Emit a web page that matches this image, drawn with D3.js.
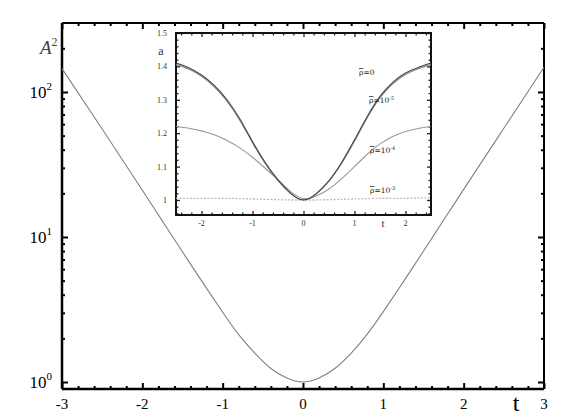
<!DOCTYPE html>
<html>
<head>
<meta charset="utf-8">
<script src="https://cdn.jsdelivr.net/npm/d3@7"></script>
<style>
  body { margin: 0; background: #fff; }
  svg { display: block; font-family: "Liberation Serif", "DejaVu Serif", serif; }
</style>
</head>
<body>
<div id="chart"></div>
<script>
// main curve: A^2 against t
var tMain = [-3, -2.5, -2, -1.8, -1.6, -1.4, -1.2, -1, -0.8, -0.6, -0.4, -0.2, 0,
             0.2, 0.4, 0.6, 0.8, 1, 1.2, 1.4, 1.6, 1.8, 2, 2.5, 3];
var a2Main = [145, 55.5, 21.0, 14.2, 9.6, 6.5, 4.42, 3.03, 2.12, 1.58, 1.24, 1.066, 1.0,
              1.067, 1.245, 1.585, 2.14, 3.06, 4.47, 6.58, 9.73, 14.4, 21.3, 56.2, 148];

// inset: a against t for several rho-bar
var tInset = [-2.5, -2.25, -2, -1.75, -1.5, -1.25, -1, -0.75, -0.5, -0.25, 0,
              0.25, 0.5, 0.75, 1, 1.25, 1.5, 1.75, 2, 2.25, 2.5];
var aRho0 = [1.41, 1.396, 1.374, 1.343, 1.3, 1.243, 1.175, 1.112, 1.06, 1.02, 1.0,
             1.019, 1.058, 1.113, 1.18, 1.25, 1.31, 1.352, 1.38, 1.397, 1.41];
var aRho5 = [1.406, 1.392, 1.37, 1.339, 1.296, 1.239, 1.171, 1.109, 1.058, 1.019, 1.0,
             1.018, 1.056, 1.11, 1.176, 1.246, 1.306, 1.348, 1.376, 1.393, 1.406];
var aRho4 = [1.22, 1.215, 1.207, 1.195, 1.178, 1.156, 1.128, 1.095, 1.06, 1.025, 1.004,
             1.012, 1.033, 1.064, 1.1, 1.137, 1.168, 1.19, 1.205, 1.214, 1.22];
var aRho3 = [1.005, 1.005, 1.005, 1.005, 1.005, 1.004, 1.003, 1.002, 1.001, 1.0, 1.0,
             1.0, 1.001, 1.002, 1.003, 1.004, 1.005, 1.005, 1.005, 1.006, 1.006];

var mainXTicks = [-3, -2, -1, 0, 1, 2, 3];
var mainYTicks = [1, 10, 100];
var mainYLabels = ["0", "1", "2"];
var insetXTicks = [-2, -1, 0, 1, 2];
var insetYTicks = [1, 1.1, 1.2, 1.3, 1.4, 1.5];
var insetYLabels = ["1", "1.1", "1.2", "1.3", "1.4", "1.5"];

var svgWidth = 581, svgHeight = 419;

var svg = d3.select("#chart").append("svg")
  .attr("width", svgWidth)
  .attr("height", svgHeight);

// ---------- main plot ----------
var box = { left: 62, right: 544, top: 23, bottom: 389 };

var x = d3.scaleLinear().domain([-3, 3]).range([box.left, box.right]);
var y = d3.scaleLog().domain([0.895, 299]).range([box.bottom, box.top]);

var minorX = d3.range(-3, 3.001, 0.2).map(d => +d.toFixed(1)).filter(d => mainXTicks.indexOf(d) < 0);
var minorY = [];
[1, 10, 100].forEach(function(dec) {
  for (var k = 2; k <= 9; k++) {
    if (dec * k < 299) minorY.push(dec * k);
  }
});

function drawTicks(g, axis) {
  g.call(axis);
  g.select(".domain").remove();
  g.selectAll(".tick line").attr("stroke", "#000").attr("stroke-width", 2);
}

// bottom/top/left/right ticks, all pointing inward
drawTicks(svg.append("g").attr("transform", `translate(0,${box.bottom})`),
  d3.axisBottom(x).tickValues(mainXTicks).tickSize(-6).tickFormat(""));
drawTicks(svg.append("g").attr("transform", `translate(0,${box.bottom})`),
  d3.axisBottom(x).tickValues(minorX).tickSize(-3).tickFormat(""));
drawTicks(svg.append("g").attr("transform", `translate(0,${box.top})`),
  d3.axisTop(x).tickValues(mainXTicks).tickSize(-6).tickFormat(""));
drawTicks(svg.append("g").attr("transform", `translate(0,${box.top})`),
  d3.axisTop(x).tickValues(minorX).tickSize(-3).tickFormat(""));
drawTicks(svg.append("g").attr("transform", `translate(${box.left},0)`),
  d3.axisLeft(y).tickValues(mainYTicks).tickSize(-6).tickFormat(""));
drawTicks(svg.append("g").attr("transform", `translate(${box.left},0)`),
  d3.axisLeft(y).tickValues(minorY).tickSize(-3).tickFormat(""));
drawTicks(svg.append("g").attr("transform", `translate(${box.right},0)`),
  d3.axisRight(y).tickValues(mainYTicks).tickSize(-6).tickFormat(""));
drawTicks(svg.append("g").attr("transform", `translate(${box.right},0)`),
  d3.axisRight(y).tickValues(minorY).tickSize(-3).tickFormat(""));

// frame
svg.append("line").attr("x1", box.left).attr("x2", box.right).attr("y1", box.bottom).attr("y2", box.bottom)
  .attr("stroke", "#000").attr("stroke-width", 2.5);
svg.append("line").attr("x1", box.left).attr("x2", box.left).attr("y1", box.top).attr("y2", box.bottom)
  .attr("stroke", "#000").attr("stroke-width", 2.5);
svg.append("line").attr("x1", box.left).attr("x2", box.right).attr("y1", box.top).attr("y2", box.top)
  .attr("stroke", "#000").attr("stroke-width", 2);
svg.append("line").attr("x1", box.right).attr("x2", box.right).attr("y1", box.top).attr("y2", box.bottom)
  .attr("stroke", "#000").attr("stroke-width", 2);

// x tick labels
svg.append("g").selectAll("text").data(mainXTicks).enter().append("text")
  .attr("x", d => x(d))
  .attr("y", 409)
  .attr("text-anchor", "middle")
  .attr("font-size", 15)
  .text(d => d);

// y tick labels 10^n
var yLab = svg.append("g").selectAll("text").data(mainYTicks).enter().append("text")
  .attr("x", 52)
  .attr("y", d => y(d) + 6)
  .attr("text-anchor", "end")
  .attr("font-size", 17);
yLab.append("tspan").text("10");
yLab.append("tspan").attr("dy", -8).attr("font-size", 11).text((d, i) => mainYLabels[i]);

// axis names
var aLab = svg.append("text").attr("x", 40).attr("y", 54).attr("font-size", 19).attr("fill", "#444");
aLab.append("tspan").attr("font-style", "italic").text("A");
aLab.append("tspan").attr("dy", -8).attr("font-size", 12).text("2");

svg.append("text").attr("x", 516).attr("y", 411)
  .attr("text-anchor", "middle").attr("font-size", 24).text("t");

// main curve
var mainData = tMain.map((t, i) => ({ t: t, v: a2Main[i] }));
var line = d3.line().x(d => x(d.t)).y(d => y(d.v)).curve(d3.curveNatural);
svg.append("path").datum(mainData)
  .attr("d", line)
  .attr("fill", "none")
  .attr("stroke", "#808080")
  .attr("stroke-width", 1.1);

// ---------- inset ----------
var ib = { left: 176, right: 431, top: 33, bottom: 215 };
var ix = d3.scaleLinear().domain([-2.5, 2.5]).range([ib.left, ib.right]);
var iy = d3.scaleLinear().domain([0.955, 1.5]).range([ib.bottom, ib.top]);

svg.append("rect").attr("x", ib.left).attr("y", ib.top)
  .attr("width", ib.right - ib.left).attr("height", ib.bottom - ib.top)
  .attr("fill", "#fff");

var iMinorX = d3.range(-2.4, 2.401, 0.2).map(d => +d.toFixed(1)).filter(d => insetXTicks.indexOf(d) < 0 && d !== 0);
var iMinorY = d3.range(0.96, 1.5, 0.02).map(d => +d.toFixed(2)).filter(d => Math.round(d * 100) % 10 !== 0);

function drawInsetTicks(g, axis) {
  g.call(axis);
  g.select(".domain").remove();
  g.selectAll(".tick line").attr("stroke", "#222").attr("stroke-width", 1.3);
}
drawInsetTicks(svg.append("g").attr("transform", `translate(0,${ib.bottom})`),
  d3.axisBottom(ix).tickValues(insetXTicks).tickSize(-4).tickFormat(""));
drawInsetTicks(svg.append("g").attr("transform", `translate(0,${ib.bottom})`),
  d3.axisBottom(ix).tickValues(iMinorX).tickSize(-2.5).tickFormat(""));
drawInsetTicks(svg.append("g").attr("transform", `translate(0,${ib.top})`),
  d3.axisTop(ix).tickValues(insetXTicks).tickSize(-4).tickFormat(""));
drawInsetTicks(svg.append("g").attr("transform", `translate(0,${ib.top})`),
  d3.axisTop(ix).tickValues(iMinorX).tickSize(-2.5).tickFormat(""));
drawInsetTicks(svg.append("g").attr("transform", `translate(${ib.left},0)`),
  d3.axisLeft(iy).tickValues(insetYTicks).tickSize(-4).tickFormat(""));
drawInsetTicks(svg.append("g").attr("transform", `translate(${ib.left},0)`),
  d3.axisLeft(iy).tickValues(iMinorY).tickSize(-2.5).tickFormat(""));
drawInsetTicks(svg.append("g").attr("transform", `translate(${ib.right},0)`),
  d3.axisRight(iy).tickValues(insetYTicks).tickSize(-4).tickFormat(""));
drawInsetTicks(svg.append("g").attr("transform", `translate(${ib.right},0)`),
  d3.axisRight(iy).tickValues(iMinorY).tickSize(-2.5).tickFormat(""));

svg.append("rect").attr("x", ib.left).attr("y", ib.top)
  .attr("width", ib.right - ib.left).attr("height", ib.bottom - ib.top)
  .attr("fill", "none").attr("stroke", "#111").attr("stroke-width", 2);

// inset tick labels
svg.append("g").selectAll("text").data(insetYTicks).enter().append("text")
  .attr("x", 167)
  .attr("y", d => iy(d) + 3)
  .attr("text-anchor", "end")
  .attr("font-size", 8)
  .attr("fill", "#333")
  .text((d, i) => insetYLabels[i]);
svg.append("g").selectAll("text").data(insetXTicks).enter().append("text")
  .attr("x", d => ix(d))
  .attr("y", 226)
  .attr("text-anchor", "middle")
  .attr("font-size", 8)
  .attr("fill", "#333")
  .text(d => d);
svg.append("text").attr("x", 161).attr("y", 55).attr("text-anchor", "middle")
  .attr("font-size", 12).attr("fill", "#333").text("a");
svg.append("text").attr("x", 383).attr("y", 227).attr("text-anchor", "middle")
  .attr("font-size", 11).attr("fill", "#333").text("t");

// inset curves
var iLine = d3.line().x(d => ix(d.t)).y(d => iy(d.v)).curve(d3.curveNatural);
var insetSeries = [
  { vals: aRho3, color: "#bbb", width: 1.3, dash: "2,1.5" },
  { vals: aRho4, color: "#999", width: 1.1, dash: null },
  { vals: aRho5, color: "#888", width: 1.1, dash: null },
  { vals: aRho0, color: "#444", width: 1.1, dash: null }
];
insetSeries.forEach(function(s) {
  svg.append("path")
    .datum(tInset.map((t, i) => ({ t: t, v: s.vals[i] })))
    .attr("d", iLine)
    .attr("fill", "none")
    .attr("stroke", s.color)
    .attr("stroke-width", s.width)
    .attr("stroke-dasharray", s.dash);
});

// inset legend labels (rho with a bar on top)
var rhoLabels = [
  { exp: null, x: 359, y: 75 },
  { exp: "-5", x: 369, y: 103 },
  { exp: "-4", x: 370, y: 153 },
  { exp: "-3", x: 370, y: 193 }
];
rhoLabels.forEach(function(r) {
  var t = svg.append("text").attr("x", r.x).attr("y", r.y)
    .attr("font-family", "DejaVu Serif")
    .attr("font-size", 7.5).attr("fill", "#222");
  t.append("tspan").attr("text-decoration", "overline").text("ρ");
  t.append("tspan").text(r.exp ? "=10" : "=0");
  if (r.exp) t.append("tspan").attr("dy", -3).attr("font-size", 5).text(r.exp);
});
</script>
</body>
</html>
